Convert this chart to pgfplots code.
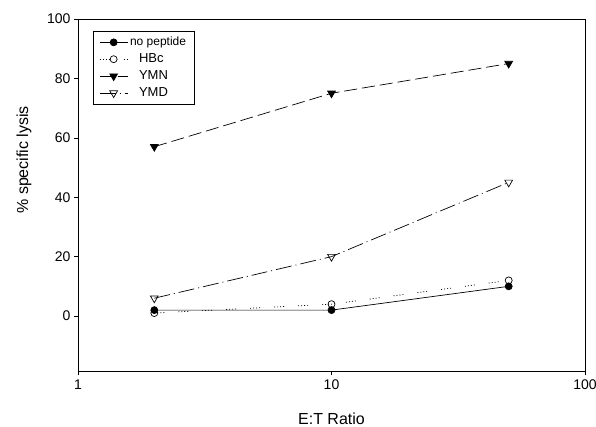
\documentclass[border=0pt]{standalone}
\usepackage{pgfplots}
\pgfplotsset{compat=1.18}
\usepackage{fontspec}
\setmainfont{Liberation Sans}
\begin{document}
\begin{tikzpicture}
\begin{axis}[
  at={(0pt,0pt)}, anchor=south west,
  scale only axis, width=507pt, height=352pt,
  xmode=log, xmin=1, xmax=100, ymin=-18.5, ymax=100,
  log basis x=10,
  xtick={1,10,100}, xticklabels={1,10,100},
  minor xtick={},
  ytick={0,20,40,60,80,100},
  tick pos=left, tick align=outside,
  major tick length=4pt,
  tick style={black, line width=0.6pt},
  axis line style={line width=0.6pt},
  /pgf/number format/assume math mode=true,
  ticklabel style={font=\fontsize{14}{16}\selectfont},
  xticklabel style={yshift=-1pt},
  xlabel={E:T Ratio}, ylabel={\% specific lysis},
  label style={font=\fontsize{16}{18}\selectfont},
  xlabel style={at={(axis description cs:0.5,0)}, anchor=base, yshift=-54pt},
  ylabel style={at={(axis description cs:-0.0986,0.60)}, anchor=base},
  legend style={at={(0.0296,0.966)}, anchor=north west, draw=black, line width=0.6pt,
    font=\fontsize{13}{15}\selectfont, row sep=2.5pt, inner xsep=6pt, inner ysep=4pt},
  legend cell align=left,
  legend image code/.code={\draw[mark repeat=2,mark phase=2] plot coordinates {(0pt,0pt) (14pt,0pt) (28pt,0pt)};},
]
\addplot[black, line width=0.7pt, mark=*, mark size=3.5pt, mark options={solid, fill=black}]
  coordinates {(2,2) (10,2) (50,10)};
\addlegendentry{\fontsize{12}{14}\selectfont no peptide}
\addplot[black, line width=0.7pt, dash pattern=on 1pt off 2pt on 1pt off 2pt on 1pt off 2pt on 1pt off 14pt, mark=o, mark size=3.5pt, mark options={solid, fill=white}]
  coordinates {(2,1) (10,4) (50,12)};
\addlegendentry{\hspace{9pt}HBc}
\addplot[black, line width=0.7pt, dash pattern=on 13pt off 5pt, mark=triangle*, mark size=4.5pt, mark options={solid, fill=black, rotate=180}]
  coordinates {(2,57) (10,75) (50,85)};
\addlegendentry{\hspace{9pt}YMN}
\addplot[black, line width=0.7pt, dash pattern=on 16pt off 4pt on 1pt off 4pt, mark=triangle, mark size=4.5pt, mark options={solid, fill=white, rotate=180}]
  coordinates {(2,6) (10,20) (50,45)};
\addlegendentry{\hspace{9pt}YMD\rule[-8pt]{0pt}{8pt}}
\end{axis}
\pgfresetboundingbox
\path[use as bounding box] (-78pt,-56pt) rectangle (518pt,371pt);
\end{tikzpicture}
\end{document}
